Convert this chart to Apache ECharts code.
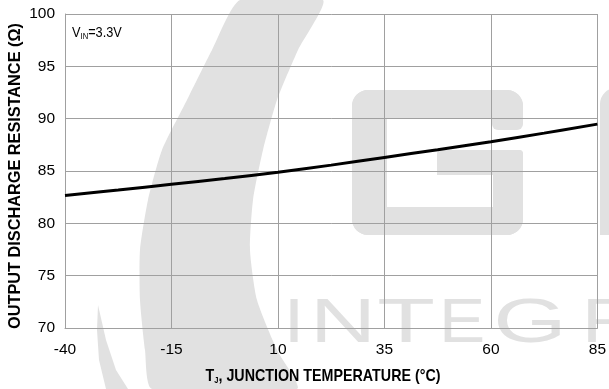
<!DOCTYPE html>
<html>
<head>
<meta charset="utf-8">
<script src="https://cdn.jsdelivr.net/npm/echarts@6/dist/echarts.min.js"></script>
<style>
html,body{margin:0;padding:0;background:#fff;}
#chart{width:609px;height:389px;}
</style>
</head>
<body>
<div id="chart"></div>
<script>
// Data
var temperatures = [-40, -27.5, -15, -2.5, 10, 22.5, 35, 47.5, 60, 72.5, 85];
var resistance   = [82.67, 83.18, 83.73, 84.28, 84.88, 85.56, 86.3, 87.03, 87.8, 88.62, 89.48];
var xTicks = [-40, -15, 10, 35, 60, 85];
var yTicks = [70, 75, 80, 85, 90, 95, 100];
var yTitle = 'OUTPUT DISCHARGE RESISTANCE (Ω)';
var watermarkLetters = ['I', 'N', 'T', 'E', 'G', 'R'];

var SANS = "'Liberation Sans', Arial, sans-serif";
var WM = '#e1e1e1';

var chart = echarts.init(document.getElementById('chart'), null, {renderer: 'canvas'});

// watermark outline (decorative background, not data)
var crescent = [
  [323, 0], [298, 50], [277, 100], [263, 150], [253, 200], [250, 250], [257, 300], [277, 350], [297, 389],
  [152, 389], [145, 350], [140, 300], [140, 250], [148, 200], [162, 150], [187, 100], [212, 50], [240, 0]
];
var sliver = [[98, 305], [106, 340], [116, 370], [128, 389], [106, 389], [99, 360], [97, 330]];

var wmLetterPos = [
  {x: 294, s: 1.2},
  {x: 343, s: 1.45},
  {x: 406, s: 1.5},
  {x: 462, s: 1.1},
  {x: 530, s: 1.5},
  {x: 611, s: 1.3}
];

var graphics = [];
graphics.push({type: 'polygon', z: -10, shape: {points: crescent, smooth: 0.2}, style: {fill: WM}});
graphics.push({type: 'polygon', z: -10, shape: {points: sliver}, style: {fill: WM}});
var gRects = [
  [352, 90, 171, 28, [16, 16, 0, 0]],
  [492, 90, 31, 40, [0, 16, 6, 6]],
  [352, 90, 35, 145, [16, 0, 0, 16]],
  [352, 207, 171, 28, [0, 0, 16, 16]],
  [493, 150, 30, 85, [4, 4, 16, 0]],
  [437, 150, 86, 25, [4, 4, 0, 0]],
  [600, 88, 20, 147, [16, 0, 0, 0]]
];
gRects.forEach(function (r) {
  graphics.push({type: 'rect', z: -10, shape: {x: r[0], y: r[1], width: r[2], height: r[3], r: r[4]}, style: {fill: WM}});
});
watermarkLetters.forEach(function (ch, i) {
  graphics.push({
    type: 'text', z: -10, x: wmLetterPos[i].x, y: 356, scaleX: wmLetterPos[i].s,
    style: {text: ch, x: 0, y: 0, fill: WM, font: "63px " + SANS,
      textAlign: 'center', textVerticalAlign: 'bottom'}
  });
});
graphics.push({
  type: 'text', z: 10, x: 72, y: 33, scaleX: 0.85,
  style: {
    text: '{v|V}{sub|IN}{v|=3.3V}', x: 0, y: 0, textAlign: 'left', textVerticalAlign: 'middle',
    rich: {
      v: {fontFamily: SANS, fontSize: 15, fill: '#000'},
      sub: {fontFamily: SANS, fontSize: 9, fill: '#000', padding: [8, 0, 0, 0]}
    }
  }
});
graphics.push({
  type: 'text', z: 10, x: 323, y: 376, scaleX: 0.84,
  style: {
    text: '{b|T}{s|J}{b|, JUNCTION TEMPERATURE (°C)}', x: 0, y: 0,
    textAlign: 'center', textVerticalAlign: 'middle',
    rich: {
      b: {fontFamily: SANS, fontWeight: 'bold', fontSize: 17, fill: '#000'},
      s: {fontFamily: SANS, fontWeight: 'bold', fontSize: 9, fill: '#000', padding: [9, 0, 0, 0]}
    }
  }
});
graphics.push({
  type: 'text', z: 10, x: 16, y: 176, rotation: Math.PI / 2,
  style: {
    text: yTitle, x: 0, y: 0, textAlign: 'center', textVerticalAlign: 'middle',
    font: "bold 16.3px " + SANS, fill: '#000'
  }
});

var option = {
  backgroundColor: '#fff',
  animation: false,
  grid: {left: 65, right: 9, top: 14, bottom: 61, containLabel: false},
  xAxis: {
    type: 'value', min: xTicks[0], max: xTicks[xTicks.length - 1], interval: 25,
    axisLine: {show: true, onZero: false, lineStyle: {color: '#a0a0a0', width: 1}},
    axisTick: {show: false},
    axisLabel: {color: '#000', fontFamily: SANS, fontSize: 15.5, margin: 14},
    splitLine: {show: true, lineStyle: {color: '#a0a0a0', width: 1}}
  },
  yAxis: {
    type: 'value', min: yTicks[0], max: yTicks[yTicks.length - 1], interval: 5,
    axisLine: {show: true, onZero: false, lineStyle: {color: '#a0a0a0', width: 1}},
    axisTick: {show: false},
    axisLabel: {color: '#000', fontFamily: SANS, fontSize: 15.5, margin: 10},
    splitLine: {show: true, lineStyle: {color: '#a0a0a0', width: 1}}
  },
  graphic: {elements: graphics},
  series: [{
    type: 'line',
    data: temperatures.map(function (t, i) { return [t, resistance[i]]; }),
    smooth: 0.4,
    showSymbol: false,
    lineStyle: {color: '#000', width: 3},
    z: 5
  }]
};
chart.setOption(option);
</script>
</body>
</html>
